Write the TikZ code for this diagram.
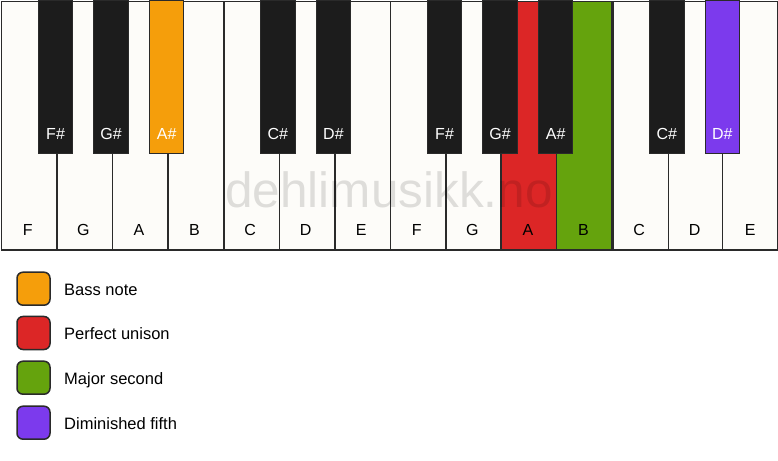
\documentclass[tikz,border=0pt]{standalone}
\usepackage{fontspec}
\setmainfont{Liberation Sans}
\definecolor{keywhite}{HTML}{FDFCF9}
\definecolor{keyblack}{HTML}{1C1C1C}
\definecolor{keyedge}{HTML}{2A2A2A}
\definecolor{cbass}{HTML}{F59E0B}
\definecolor{cunison}{HTML}{DC2626}
\definecolor{csecond}{HTML}{65A30D}
\definecolor{cfifth}{HTML}{7C3AED}
\begin{document}
\begin{tikzpicture}[x=1bp,y=-1bp,
  whitekey/.style={draw=keyedge, line width=1.5bp, fill=keywhite, rectangle, inner sep=0pt,
    minimum width=55.57bp, minimum height=248.5bp, anchor=north west},
  blackkey/.style={draw=keyedge, line width=1bp, fill=keyblack, rectangle, inner sep=0pt,
    minimum width=34.5bp, minimum height=153bp, anchor=north},
  wlabel/.style={font=\fontsize{16bp}{18bp}\selectfont, text=black, anchor=base, inner sep=0pt},
  blabel/.style={font=\fontsize{16bp}{18bp}\selectfont, text=white, anchor=base, inner sep=0pt},
  legbox/.style={draw=keyedge, line width=1.5bp, rounded corners=6bp, rectangle, inner sep=0pt,
    minimum width=33bp, minimum height=33bp},
  legtext/.style={font=\fontsize{16.5bp}{19bp}\selectfont, anchor=base west, inner sep=0pt},
  watermark/.style={font=\fontsize{49.5bp}{52bp}\selectfont, text=black, text opacity=0.12, anchor=base, inner sep=0pt}
]
\useasboundingbox (0,0) rectangle (778,461);
\fill[white] (0,0) rectangle (778,461);
\def\kw{55.57}
% white keys
\foreach \n [count=\i from 0] in {F,G,A,B,C,D,E,F,G,A,B,C,D,E} {
  \node[whitekey] (w\i) at ({\i*\kw+0.75},0.75) {};
}
\node[whitekey, fill=cunison] (w9) at ({9*\kw},0.75) {};
\node[whitekey, fill=csecond] (w10) at ({10*\kw},0.75) {};
\node[whitekey] (w13) at ({13*\kw-0.75},0.75) {};
\foreach \n [count=\i from 0] in {F,G,A,B,C,D,E,F,G,A,B,C,D,E} {
  \node[wlabel] (wl\i) at ({(\i+0.5)*\kw},236) {\n};
}
% black keys
\foreach \b/\n/\c in {1/F\#/keyblack,2/G\#/keyblack,3/A\#/cbass,5/C\#/keyblack,6/D\#/keyblack,
  8/F\#/keyblack,9/G\#/keyblack,10/A\#/keyblack,12/C\#/keyblack,13/D\#/cfifth} {
  \node[blackkey, fill=\c] (b\b) at ({\b*\kw},0) {};
  \node[blabel] (bl\b) at ({\b*\kw},139.3) {\n};
}
% watermark
\node[watermark] (wm) at (389,208) {dehlimusikk.no};
% legend
\foreach \c/\t/\y [count=\k] in {cbass/Bass note/288.7, cunison/Perfect unison/333,
  csecond/Major second/377.7, cfifth/Diminished fifth/422.7} {
  \node[legbox, fill=\c] (lb\k) at (33.5,\y) {};
  \node[legtext] (lt\k) at (64,{\y+7}) {\t};
}
\end{tikzpicture}
\end{document}
